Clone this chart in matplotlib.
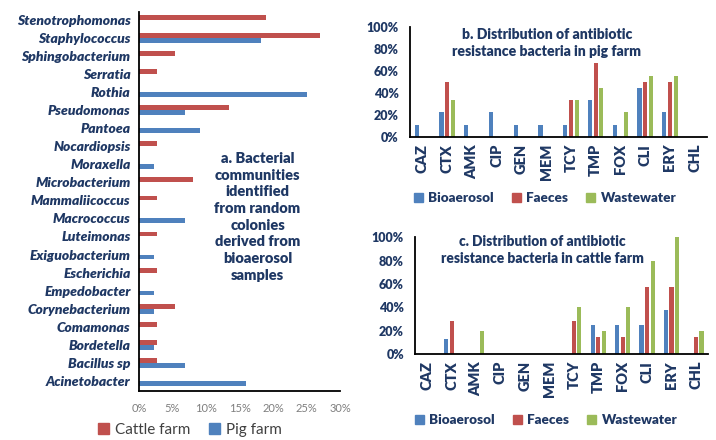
import matplotlib
matplotlib.use("Agg")
import matplotlib.pyplot as plt
import numpy as np
from matplotlib.patches import Patch

plt.rcParams['font.family'] = ['Lato', 'DejaVu Sans']

NAVY = "#1F3864"
BLUE = "#4F81BD"
RED = "#C0504D"
GREEN = "#9BBB59"

# ---- Panel a: bacterial genera (percent of isolates) ----
genera = ["Stenotrophomonas", "Staphylococcus", "Sphingobacterium", "Serratia",
          "Rothia", "Pseudomonas", "Pantoea", "Nocardiopsis", "Moraxella",
          "Microbacterium", "Mammaliicoccus", "Macrococcus", "Luteimonas",
          "Exiguobacterium", "Escherichia", "Empedobacter", "Corynebacterium",
          "Comamonas", "Bordetella", "Bacillus sp", "Acinetobacter"]
cattle_farm = [18.9, 27.0, 5.4, 2.7, 0.0, 13.5, 0.0, 2.7, 0.0, 8.1, 2.7, 0.0,
               2.7, 0.0, 2.7, 0.0, 5.4, 2.7, 2.7, 2.7, 0.0]
pig_farm = [0.0, 18.2, 0.0, 0.0, 25.0, 6.8, 9.1, 0.0, 2.3, 0.0, 0.0, 6.8,
            0.0, 2.3, 0.0, 2.3, 2.3, 0.0, 2.3, 6.8, 15.9]
pct_ticks = [0, 5, 10, 15, 20, 25, 30]

# ---- Panels b and c: antibiotic resistance (percent) ----
antibiotics = ["CAZ", "CTX", "AMK", "CIP", "GEN", "MEM", "TCY", "TMP",
               "FOX", "CLI", "ERY", "CHL"]
pig_bioaerosol = [11.1, 22.2, 11.1, 22.2, 11.1, 11.1, 11.1, 33.3, 11.1, 44.4, 22.2, 0]
pig_faeces = [0, 50.0, 0, 0, 0, 0, 33.3, 66.7, 0, 50.0, 50.0, 0]
pig_wastewater = [0, 33.3, 0, 0, 0, 0, 33.3, 44.4, 22.2, 55.6, 55.6, 0]
cattle_bioaerosol = [0, 12.5, 0, 0, 0, 0, 0, 25.0, 25.0, 25.0, 37.5, 0]
cattle_faeces = [0, 28.6, 0, 0, 0, 0, 28.6, 14.3, 14.3, 57.1, 57.1, 14.3]
cattle_wastewater = [0, 0, 20.0, 0, 0, 0, 40.0, 20.0, 40.0, 80.0, 100.0, 20.0]
resist_ticks = [0, 20, 40, 60, 80, 100]

fig = plt.figure(figsize=(7.16, 4.4), dpi=100)

# ---------- panel a ----------
ax = fig.add_axes([0.194, 0.112, 0.281, 0.861])
y = np.arange(len(genera))
h = 0.27
ax.barh(y - h / 2, cattle_farm, height=h, color=RED, label="Cattle farm")
ax.barh(y + h / 2, pig_farm, height=h, color=BLUE, label="Pig farm")
ax.set_ylim(len(genera) - 0.45, -0.45)
ax.set_xlim(0, 30)
ax.set_yticks(y)
ax.set_yticklabels(genera, fontsize=10, fontweight="heavy", fontstyle="italic", color=NAVY)
ax.set_xticks(pct_ticks)
ax.set_xticklabels([f"{t}%" for t in pct_ticks], fontsize=8, color="#7F7F7F")
ax.tick_params(length=0, pad=6)
ax.tick_params(axis="x", pad=9)
for s in ["top", "right"]:
    ax.spines[s].set_visible(False)
for s in ["left", "bottom"]:
    ax.spines[s].set_linewidth(1.3)
ax.text(0.59, 0.459,
        "a. Bacterial\ncommunities\nidentified\nfrom random\ncolonies\nderived from\nbioaerosol\nsamples",
        transform=ax.transAxes, ha="center", va="center", fontsize=10.5,
        fontweight="heavy", color=NAVY, linespacing=1.33)
fig.legend(handles=[Patch(color=RED, label="Cattle farm"), Patch(color=BLUE, label="Pig farm")],
           loc="center", bbox_to_anchor=(190 / 716, 1 - 430 / 440), ncol=2, frameon=False,
           prop={"size": 11}, labelcolor="#404040", handlelength=0.7, handleheight=0.7,
           handletextpad=0.4, columnspacing=1.2)


def resist_panel(rect, series, title, title_xy, title_size, legend_x, legend_y):
    ax = fig.add_axes(rect)
    x = np.arange(len(antibiotics))
    w = 0.17
    step = 0.23
    colors = [BLUE, RED, GREEN]
    for i, (vals, c) in enumerate(zip(series, colors)):
        ax.bar(x + (i - 1) * step, [v / 100 for v in vals], width=w, color=c)
    ax.set_xlim(-0.5, len(antibiotics) - 0.5)
    ax.set_ylim(0, 1)
    ax.set_yticks([t / 100 for t in resist_ticks])
    ax.set_yticklabels([f"{t}%" for t in resist_ticks], fontsize=9,
                       fontweight="heavy", color=NAVY)
    ax.set_xticks(x)
    ax.set_xticklabels(antibiotics, rotation=90, fontsize=10.5,
                       fontweight="heavy", color=NAVY)
    ax.tick_params(length=0)
    ax.tick_params(axis="y", pad=8)
    ax.tick_params(axis="x", pad=5)
    for s in ["top", "right"]:
        ax.spines[s].set_visible(False)
    for s in ["left", "bottom"]:
        ax.spines[s].set_linewidth(1.3)
    fig.text(title_xy[0] / 716, 1 - title_xy[1] / 440, title, ha="center",
             va="center", fontsize=title_size, fontweight="heavy", color=NAVY,
             linespacing=1.3)
    fig.legend(handles=[Patch(color=BLUE, label="Bioaerosol"),
                        Patch(color=RED, label="Faeces"),
                        Patch(color=GREEN, label="Wastewater")],
               loc="center", bbox_to_anchor=(legend_x / 716, 1 - legend_y / 440),
               ncol=3, frameon=False, prop={"size": 9.7, "weight": "heavy"},
               labelcolor=NAVY, handlelength=0.7, handleheight=0.7,
               handletextpad=0.4, columnspacing=1.3)
    return ax


resist_panel([0.5726, 0.689, 0.415, 0.250],
             [pig_bioaerosol, pig_faeces, pig_wastewater],
             "b. Distribution of antibiotic\nresistance bacteria in pig farm",
             (547, 43), 10.1, 545, 198)
resist_panel([0.5796, 0.1955, 0.4094, 0.2652],
             [cattle_bioaerosol, cattle_faeces, cattle_wastewater],
             "c. Distribution of antibiotic\nresistance bacteria in cattle farm",
             (542, 250), 9.9, 546, 420)

fig.savefig("out.png", dpi=100)
